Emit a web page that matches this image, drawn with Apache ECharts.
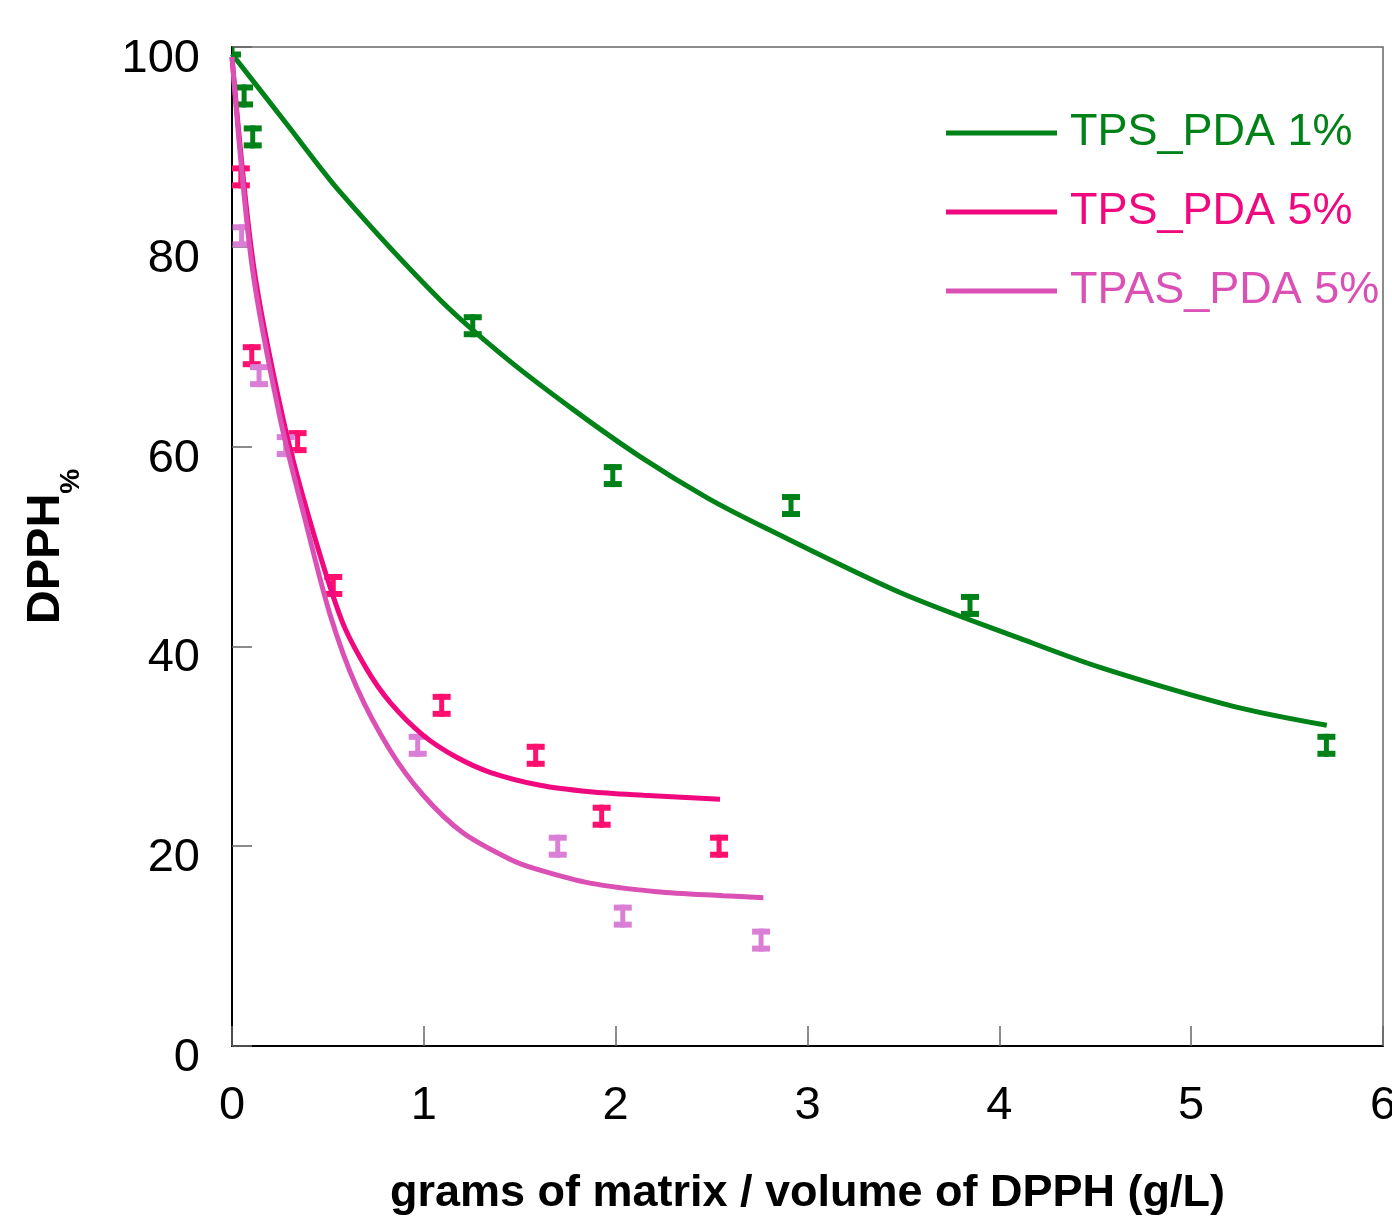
<!DOCTYPE html>
<html>
<head>
<meta charset="utf-8">
<title>DPPH</title>
<script src="https://cdn.jsdelivr.net/npm/echarts@6/dist/echarts.min.js"></script>
<style>
  html, body { margin: 0; padding: 0; background: #fff; }
  #chart { width: 1392px; height: 1218px; }
</style>
</head>
<body>
<div id="chart"></div>
<script>
// measured points (mean) and error half-width
var tps1X = [0.0, 0.063, 0.108, 1.255, 1.985, 2.914, 3.847, 5.705];
var tps1Y = [100.1, 95.1, 91.0, 72.1, 57.1, 54.1, 44.1, 30.1];
var tps5X = [0.046, 0.103, 0.342, 0.528, 1.093, 1.583, 1.927, 2.539];
var tps5Y = [87.0, 69.1, 60.5, 46.1, 34.1, 29.1, 23.0, 20.0];
var tpasX = [0.05, 0.141, 0.28, 0.968, 1.698, 2.037, 2.758];
var tpasY = [81.1, 67.1, 60.1, 30.1, 20.0, 13.0, 10.6];
var errHalf = 1.15;

// fitted curves
var tps1Fit = [[0, 99.3], [0.285, 92.3], [0.563, 85.5], [1.084, 74.7], [1.432, 68.8], [1.779, 63.7],
  [2.127, 59.0], [2.475, 54.9], [2.787, 51.8], [3.482, 45.4], [4.108, 40.8], [4.525, 37.9],
  [5.22, 34.0], [5.707, 32.1]];
var tps5Fit = [[0, 99.0], [0.111, 78.3], [0.267, 62.7], [0.407, 52.5], [0.572, 42.6], [0.70, 37.8],
  [0.824, 34.4], [0.997, 31.1], [1.171, 28.9], [1.345, 27.4], [1.606, 26.1], [1.866, 25.45],
  [2.144, 25.1], [2.544, 24.7]];
var tpasFit = [[0, 99.0], [0.105, 78.0], [0.25, 62.9], [0.381, 52.7], [0.511, 43.2], [0.65, 35.9],
  [0.824, 29.6], [0.997, 25.1], [1.2, 21.4], [1.449, 18.7], [1.588, 17.7], [1.866, 16.3],
  [2.214, 15.45], [2.561, 15.05], [2.77, 14.85]];

var xTicks = [0, 1, 2, 3, 4, 5, 6];
var yTicks = [0, 20, 40, 60, 80, 100];

var seriesNames = ['TPS_PDA 1%', 'TPS_PDA 5%', 'TPAS_PDA 5%'];
var lineColors = ['#008218', '#f0087f', '#da50b5'];
var barColors = ['#008218', '#ff0f6e', '#da7fd6'];

var font = "'Liberation Sans', Arial, sans-serif";

function zipErr(xs, ys) {
  return xs.map(function (x, i) { return [x, ys[i], ys[i] - errHalf, ys[i] + errHalf]; });
}

function errorBars(color) {
  return function (params, api) {
    var x = api.value(0);
    var lo = api.coord([x, api.value(2)]);
    var hi = api.coord([x, api.value(3)]);
    var half = 9;
    var st = { stroke: color, lineWidth: 6 };
    return {
      type: 'group',
      children: [
        { type: 'line', shape: { x1: lo[0], y1: lo[1], x2: hi[0], y2: hi[1] }, style: { stroke: color, lineWidth: 5 } },
        { type: 'line', shape: { x1: lo[0] - half, y1: lo[1] - 3, x2: lo[0] + half, y2: lo[1] - 3 }, style: st },
        { type: 'line', shape: { x1: hi[0] - half, y1: hi[1] + 3, x2: hi[0] + half, y2: hi[1] + 3 }, style: st }
      ]
    };
  };
}

var chart = echarts.init(document.getElementById('chart'));

var fits = [tps1Fit, tps5Fit, tpasFit];
var pts = [zipErr(tps1X, tps1Y), zipErr(tps5X, tps5Y), zipErr(tpasX, tpasY)];
var series = [];
for (var i = 0; i < 3; i++) {
  series.push({
    type: 'custom',
    name: seriesNames[i] + ' err',
    renderItem: errorBars(barColors[i]),
    data: pts[i],
    clip: true,
    z: 2
  });
}
for (var j = 0; j < 3; j++) {
  series.push({
    type: 'line',
    name: seriesNames[j],
    data: fits[j],
    smooth: 0.3,
    showSymbol: false,
    lineStyle: { color: lineColors[j], width: 5 },
    itemStyle: { color: lineColors[j] },
    z: 3
  });
}

chart.setOption({
  animation: false,
  backgroundColor: '#fff',
  grid: {
    left: 232, right: 9, top: 47, bottom: 172,
    outerBoundsMode: 'none',
    containLabel: false,
    show: true, borderColor: '#666', borderWidth: 1.5
  },
  legend: {
    orient: 'vertical',
    left: 946,
    top: 103,
    padding: 0,
    itemWidth: 111,
    itemHeight: 5,
    itemGap: 19,
    icon: 'rect',
    data: seriesNames.map(function (n, k) {
      return { name: n, textStyle: { color: lineColors[k] } };
    }),
    textStyle: { fontFamily: font, fontSize: 45, lineHeight: 60, padding: [0, 0, 0, 8] }
  },
  xAxis: {
    type: 'value',
    min: 0, max: 6, interval: 1,
    name: 'grams of matrix / volume of DPPH (g/L)',
    nameLocation: 'middle',
    nameGap: 125,
    nameTextStyle: { fontFamily: font, fontSize: 45, fontWeight: 'bold', color: '#000' },
    axisLine: { lineStyle: { color: '#000', width: 2 } },
    axisTick: { inside: true, length: 20, lineStyle: { color: '#666', width: 1.5 } },
    axisLabel: {
      fontFamily: font, fontSize: 47, color: '#000', margin: 37,
      formatter: function (v) { return xTicks.indexOf(v) >= 0 ? String(v) : ''; }
    },
    splitLine: { show: false }
  },
  yAxis: {
    type: 'value',
    min: 0, max: 100, interval: 20,
    name: '{m|DPPH}{s|%}',
    nameLocation: 'middle',
    nameGap: 147,
    nameTextStyle: {
      rich: {
        m: { fontFamily: font, fontSize: 47, fontWeight: 'bold', color: '#000', verticalAlign: 'bottom', lineHeight: 54, padding: [0, 0, 15, 0] },
        s: { fontFamily: font, fontSize: 28, fontWeight: 'bold', color: '#000', verticalAlign: 'bottom', lineHeight: 14 }
      }
    },
    axisLine: { lineStyle: { color: '#000', width: 2 } },
    axisTick: { inside: true, length: 20, lineStyle: { color: '#666', width: 1.5 } },
    axisLabel: {
      fontFamily: font, fontSize: 47, color: '#000', margin: 32,
      verticalAlign: 'top', lineHeight: 24,
      formatter: function (v) { return yTicks.indexOf(v) >= 0 ? String(v) : ''; }
    },
    splitLine: { show: false }
  },
  series: series
});
</script>
</body>
</html>
